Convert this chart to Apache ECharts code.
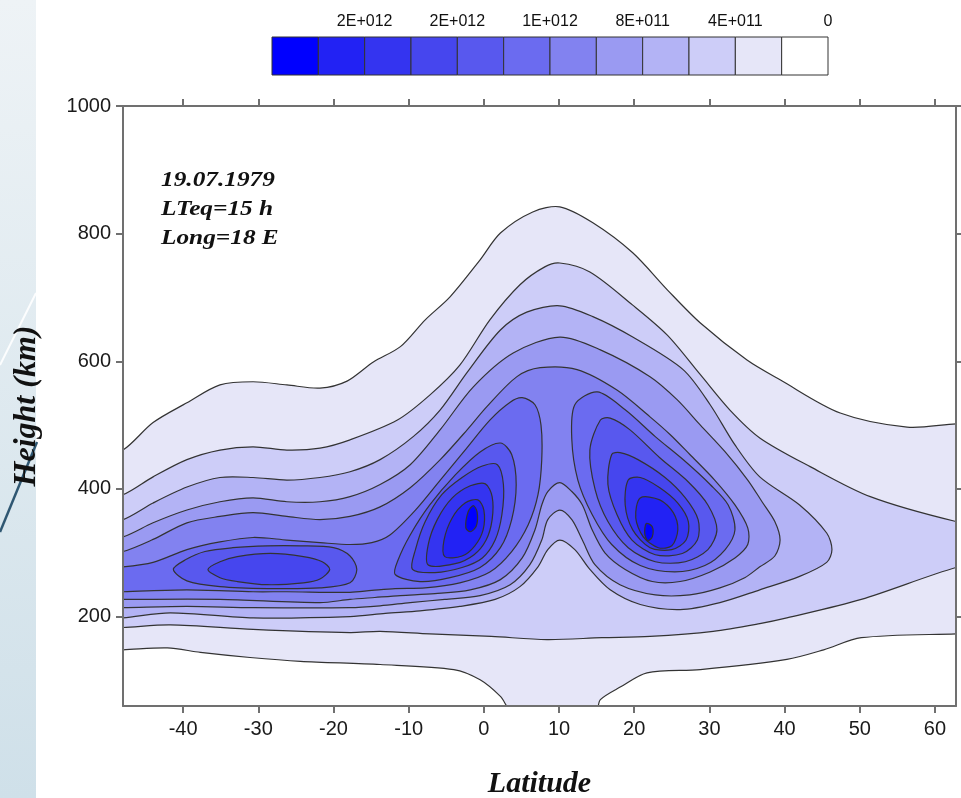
<!DOCTYPE html>
<html>
<head>
<meta charset="utf-8">
<script src="https://cdn.jsdelivr.net/npm/echarts@6/dist/echarts.min.js"></script>
<style>
  html, body { margin: 0; padding: 0; background: #fff; }
  #main { width: 961px; height: 798px; }
</style>
</head>
<body>
<div id="main"></div>
<script>
// axis ticks and colour bar labels
var latTicks = [-40, -30, -20, -10, 0, 10, 20, 30, 40, 50, 60];
var heightTicks = [200, 400, 600, 800, 1000];
var barLabels = ['2E+012', '2E+012', '1E+012', '8E+011', '4E+011', '0'];
var barTickPos = [2, 4, 6, 8, 10, 12];

// fill colour inside each contour level, level 1 (outer) .. level 11 (peak)
var levelColors = ['#e6e6f8', '#cdcdf8', '#b3b3f5', '#9a9af2', '#8282f0', '#6b6bf0',
                   '#5858ee', '#4646ee', '#3434f0', '#2222f4', '#0000ff'];

// contour outlines, [latitude, height km]
var level1 = [[-48,461],[-44,504],[-39.5,535],[-35.1,563],[-30.7,568],[-26.2,563],[-21.8,558],[-18.2,569],
  [-14.7,599],[-11.1,623],[-7.8,665],[-4.5,701],[-0.5,759],[2.2,801],[6.5,834],[10.1,842],[14.5,817],
  [19.8,770],[24.4,712],[28.8,660],[35,602],[39.4,571],[47.4,519],[56.3,497],[62.8,502],[65,502],
  [65,173],[62.8,173],[50.2,167],[45.2,148],[40.3,133],[28.8,117],[21.7,112],[18.2,90],[15.5,70],
  [14.8,50],[3.9,50],[2.2,75],[-0.5,101],[-4,117],[-13.8,125],[-24.4,130],[-31.1,136],[-37.7,144],
  [-42.1,151],[-48,148],[-50,148],[-50,461]];
var level2 = [[-48,391],[-44,419],[-39.5,446],[-35.1,461],[-30.7,466],[-26.2,461],[-21.8,464],[-17.8,477],
  [-11.5,508],[-7.2,547],[-3.2,594],[0.8,665],[4.8,720],[8.1,748],[10.1,754],[14.1,740],[19.8,688],
  [24.4,641],[28.8,579],[32.7,524],[36.7,480],[43.4,435],[51.4,388],[62.8,349],[65,349],[65,277],
  [62.8,277],[50.2,227],[40.3,198],[36.7,189],[30.5,177],[22.1,169],[15.7,167],[8.4,164],[1,169],
  [-7.2,173],[-13.8,177],[-17.8,175],[-30.7,180],[-41.7,187],[-48,183],[-50,183],[-50,391]];
var level3 = [[-48,352],[-44,378],[-39.5,403],[-35.1,418],[-30.7,418],[-26.2,414],[-21.8,418],[-17.8,427],
  [-13.8,446],[-9.4,482],[-5.8,524],[-2.2,583],[2.2,649],[5.7,677],[10.1,687],[14.5,670],[19.8,638],
  [26.5,587],[30.1,532],[33.4,469],[36.7,419],[42,375],[45.6,331],[46.3,305],[45.6,285],[42,263],
  [36.7,242],[31.4,222],[26.1,211],[20.8,219],[16.8,242],[14.1,274],[12.1,305],[10.1,320],[8.5,305],
  [7.2,278],[4.8,247],[1.5,227],[-3.2,216],[-8.5,209],[-13.1,205],[-17.8,200],[-30.7,198],
  [-41.7,206],[-48,198],[-50,198],[-50,352]];
var level4 = [[-48,325],[-44,347],[-39.5,367],[-35.1,380],[-30.7,386],[-26.2,380],[-21.8,380],[-17.8,388],
  [-13.8,407],[-9.8,438],[-5.8,493],[-1.4,560],[3.9,613],[10.1,638],[15.5,618],[22.1,576],[25.7,540],
  [28.8,500],[32.1,458],[35.1,414],[37,380],[38.7,349],[39.4,320],[38.7,295],[36.7,278],[34.7,261],
  [31.4,245],[27.4,234],[22.8,234],[18.1,250],[14.8,281],[13.1,320],[11.7,352],[10.1,367],[8.5,352],
  [7.7,320],[6.1,281],[3.5,250],[-0.5,233],[-5.2,227],[-9.8,222],[-13.8,217],[-17.8,214],
  [-30.7,214],[-39.5,216],[-48,214],[-50,214],[-50,325]];
var level5 = [[-48,302],[-44,321],[-39.5,347],[-35.1,357],[-30.7,363],[-26.2,357],[-21.8,352],[-17.8,357],
  [-13.8,372],[-9.8,402],[-5.8,446],[-2.2,493],[0.4,529],[4.4,576],[7.5,590],[12.4,587],[17.7,555],
  [22.1,513],[24.8,485],[27.4,454],[30.7,414],[33.4,375],[35.1,339],[35.1,313],[33.4,292],[30.1,270],
  [26.1,255],[22.4,255],[18.8,274],[16.1,300],[14.4,336],[13.1,375],[11.7,396],[10.1,410],[8.5,396],
  [7.7,375],[6.8,336],[5.1,292],[2.2,258],[-1.8,242],[-6.5,236],[-11.1,233],[-14.5,230],[-17.8,227],
  [-21.8,222],[-35.1,227],[-48,227],[-50,227],[-50,302]];
var level6Band = [[-48,278],[-44,285],[-39.5,305],[-35.1,317],[-30.7,324],[-26.2,320],[-21.8,316],
  [-17.8,313],[-14.9,316],[-12.5,328],[-9.1,367],[-5.8,414],[-2.5,461],[0.8,508],[3.5,536],[5.1,543],
  [6.8,532],[7.6,500],[7.7,446],[7.2,391],[5.9,344],[3.7,302],[0.8,270],[-3.2,253],[-7.8,245],
  [-11.8,244],[-14.9,241],[-17.8,238],[-26.2,239],[-30.7,239],[-39.5,242],[-48,239],[-50,239],[-50,278]];
var level6Right = [[15.1,552],[12.1,532],[11.7,477],[12.5,414],[14.4,360],[17,313],[20.8,280],[25.4,270],
  [29.4,280],[32.1,305],[33.4,336],[32.5,375],[30.1,407],[26.8,443],[22.8,482],[18.8,524]];
var level7Blob = [[-41.3,274],[-39.7,289],[-37.1,302],[-33.4,308],[-28.8,311],[-24.4,311],[-20,308],
  [-17.8,295],[-16.9,274],[-17.8,253],[-21.8,245],[-28.8,244],[-35.1,247],[-39.5,256]];
var level7Left = [[-11.8,266],[-11.4,289],[-9.8,328],[-7.2,375],[-3.8,422],[-0.5,458],[2.2,472],[3.7,454],
  [4.3,407],[3.7,352],[2.2,308],[-0.5,277],[-4.5,261],[-8.5,255]];
var level7Right = [[15.5,508],[14.1,461],[14.8,399],[16.5,349],[19.2,308],[22.8,286],[26.8,286],[29.8,305],
  [31,336],[29.8,375],[27.2,411],[23.4,449],[19.4,493],[16.8,511]];
var level8Blob = [[-36.7,274],[-35.1,286],[-32.8,294],[-28.4,299],[-24,294],[-21.5,286],[-20.5,274],
  [-21.8,259],[-24,253],[-28.8,250],[-32.8,255],[-35.1,261]];
var level8Left = [[-9.5,274],[-9.1,305],[-7.8,349],[-5.6,391],[-2.9,418],[-0.2,436],[1.8,438],[2.6,407],
  [2.4,360],[1.5,320],[-0.2,292],[-2.9,277],[-6.5,269]];
var level8Right = [[17,454],[16.5,407],[17.7,360],[19.7,320],[22.8,297],[26.4,299],[28.4,320],[28.5,352],
  [26.8,386],[24.1,418],[20.5,446],[18.1,457]];
var level9Left = [[-7.4,281],[-7.4,313],[-6.2,352],[-4.2,386],[-1.8,405],[0.2,408],[1.1,388],[1.1,352],
  [0.3,320],[-1.3,297],[-3.8,283]];
var level9Right = [[19.2,414],[18.8,375],[19.8,336],[22.1,308],[25,305],[26.9,320],[27.2,349],[25.8,378],
  [23.4,402],[20.8,418]];
var level10Left = [[-5.2,294],[-5.3,320],[-4.2,355],[-2.5,378],[-0.8,383],[0,367],[-0.1,336],[-1.2,311],[-2.9,295]];
var level10Right = [[20.8,386],[20.2,355],[21.2,325],[23.2,308],[25,311],[25.8,336],[25.2,363],[23.4,383]];
var level11Left = [[-2.4,339],[-2.1,364],[-1.4,374],[-0.9,364],[-1,342],[-1.8,333]];
var level11Right = [[21.6,346],[21.4,330],[21.8,319],[22.4,325],[22.4,341]];

var contours = [
  { level: 1, pts: level1 }, { level: 2, pts: level2 }, { level: 3, pts: level3 },
  { level: 4, pts: level4 }, { level: 5, pts: level5 },
  { level: 6, pts: level6Band }, { level: 6, pts: level6Right },
  { level: 7, pts: level7Blob }, { level: 7, pts: level7Left }, { level: 7, pts: level7Right },
  { level: 8, pts: level8Blob }, { level: 8, pts: level8Left }, { level: 8, pts: level8Right },
  { level: 9, pts: level9Left }, { level: 9, pts: level9Right },
  { level: 10, pts: level10Left }, { level: 10, pts: level10Right },
  { level: 11, pts: level11Left }, { level: 11, pts: level11Right }
];

// colour bar cells, darkest on the left, white last
var barColors = levelColors.slice().reverse().concat(['#ffffff']);

var frame = { color: '#707070', width: 2 };
var serifBold = '"Liberation Serif", "Times New Roman", serif';
var plainNum = function (v) { return String(v); };

var myChart = echarts.init(document.getElementById('main'), null, { renderer: 'canvas' });

var option = {
  animation: false,
  backgroundColor: '#ffffff',
  grid: [
    { left: 123, top: 106, width: 833, height: 600, containLabel: false, outerBoundsMode: 'none' },
    { left: 272, top: 37, width: 556, height: 38, containLabel: false, outerBoundsMode: 'none' }
  ],
  xAxis: [
    {
      type: 'value', min: -48, max: 62.8, position: 'bottom', z: 5,
      name: 'Latitude', nameLocation: 'middle', nameGap: 63,
      nameTextStyle: { fontFamily: serifBold, fontStyle: 'italic', fontWeight: 'bold', fontSize: 30, color: '#111' },
      axisLine: { onZero: false, lineStyle: frame },
      axisTick: { customValues: latTicks, length: 7, lineStyle: frame },
      axisLabel: { customValues: latTicks, fontSize: 20, color: '#1a1a1a', margin: 13,
        fontFamily: '"Liberation Sans", Arial', formatter: plainNum },
      splitLine: { show: false }
    },
    {
      type: 'value', min: -48, max: 62.8, position: 'top', z: 5,
      axisLine: { onZero: false, lineStyle: frame },
      axisTick: { customValues: latTicks, length: 7, lineStyle: frame },
      axisLabel: { show: false },
      splitLine: { show: false }
    },
    {
      gridIndex: 1, type: 'value', min: 0, max: 12, position: 'top',
      axisLine: { show: false }, axisTick: { show: false }, splitLine: { show: false },
      axisLabel: {
        customValues: barTickPos, fontSize: 16, color: '#111', margin: 7, fontFamily: '"Liberation Sans", Arial',
        formatter: function (v) { return barLabels[barTickPos.indexOf(v)]; }
      }
    }
  ],
  yAxis: [
    {
      type: 'value', min: 60, max: 1000, position: 'left', z: 5,
      name: 'Height (km)', nameLocation: 'middle', nameGap: 80, nameRotate: 90,
      nameTextStyle: { fontFamily: serifBold, fontStyle: 'italic', fontWeight: 'bold', fontSize: 32, color: '#111' },
      axisLine: { show: true, onZero: false, lineStyle: frame },
      axisTick: { show: true, customValues: heightTicks, length: 7, lineStyle: frame },
      axisLabel: { customValues: heightTicks, fontSize: 20, color: '#1a1a1a', margin: 12,
        fontFamily: '"Liberation Sans", Arial', formatter: plainNum },
      splitLine: { show: false }
    },
    {
      type: 'value', min: 60, max: 1000, position: 'right', z: 5,
      axisLine: { show: true, onZero: false, lineStyle: frame },
      axisTick: { show: true, customValues: heightTicks, length: 7, lineStyle: frame },
      axisLabel: { show: false },
      splitLine: { show: false }
    },
    { gridIndex: 1, type: 'value', min: 0, max: 1, show: false }
  ],
  graphic: [
    {
      type: 'rect', z: -10, silent: true,
      shape: { x: 0, y: 0, width: 36, height: 798 },
      style: { fill: new echarts.graphic.LinearGradient(0, 0, 0, 1, [
        { offset: 0, color: '#eef3f6' }, { offset: 1, color: '#cfe0e9' }]) }
    },
    { type: 'line', z: -9, silent: true, shape: { x1: 36, y1: 293, x2: 0, y2: 365 },
      style: { stroke: 'rgba(255,255,255,0.9)', lineWidth: 2 } },
    { type: 'line', z: -9, silent: true, shape: { x1: 37, y1: 442, x2: 0, y2: 532 },
      style: { stroke: '#2f5772', lineWidth: 2.5 } },
    {
      type: 'text', left: 161, top: 166, z: 10, scaleX: 1.15,
      style: {
        text: '19.07.1979\nLTeq=15 h\nLong=18 E',
        font: 'italic bold 22px ' + serifBold, lineHeight: 29, fill: '#111'
      }
    }
  ],
  series: [
    {
      type: 'custom', xAxisIndex: 0, yAxisIndex: 0, clip: true, silent: true,
      data: contours.map(function (c, i) { return [c.pts[0][0], c.pts[0][1], i]; }),
      renderItem: function (params, api) {
        var c = contours[params.dataIndex];
        var pts = c.pts.map(function (p) { return api.coord(p); });
        return {
          type: 'polygon',
          shape: { points: pts, smooth: 0.3 },
          style: { fill: levelColors[c.level - 1], stroke: '#333333', lineWidth: 1.2 }
        };
      }
    },
    {
      type: 'custom', xAxisIndex: 2, yAxisIndex: 2, silent: true,
      data: barColors.map(function (c, i) { return [i, 0]; }),
      renderItem: function (params, api) {
        var i = params.dataIndex;
        var a = api.coord([i, 1]);
        var b = api.coord([i + 1, 0]);
        return {
          type: 'rect',
          shape: { x: a[0], y: a[1], width: b[0] - a[0], height: b[1] - a[1] },
          style: { fill: barColors[i], stroke: '#333', lineWidth: 1 }
        };
      }
    }
  ]
};

myChart.setOption(option);
</script>
</body>
</html>
